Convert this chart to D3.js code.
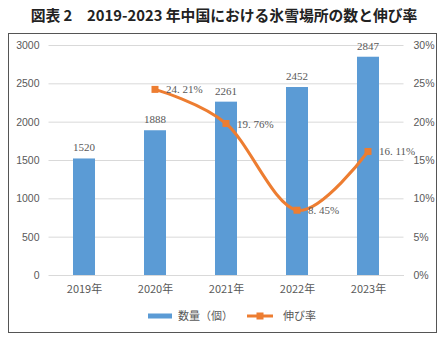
<!DOCTYPE html>
<html><head><meta charset="utf-8">
<script src="https://cdn.jsdelivr.net/npm/d3@7"></script>
<style>body{margin:0;background:#fff}svg{display:block}</style>
</head><body>
<svg id="c" width="444" height="337"></svg>
<script>
const categories = ["2019年","2020年","2021年","2022年","2023年"];
const counts = [1520, 1888, 2261, 2452, 2847];
const growth = [null, 24.21, 19.76, 8.45, 16.11];
const growthLabels = [null, "24. 21%", "19. 76%", "8. 45%", "16. 11%"];
const leftTicks = [0, 500, 1000, 1500, 2000, 2500, 3000];
const rightTicks = [0, 5, 10, 15, 20, 25, 30];
const title = "図表 2　2019-2023 年中国における氷雪場所の数と伸び率";
const legendNames = ["数量（個）", "伸び率"];

const svg = d3.select("#c");
const plot = {l: 48.5, r: 403.5, t: 45, b: 275};
const grey = "#595959", blue = "#5B9BD5", orange = "#ED7D31";
const cjk = "'Noto Sans CJK JP','Noto Sans CJK SC',sans-serif";
const labelFont = "'Liberation Serif','Times New Roman',serif";

svg.append("text").attr("x", 224).attr("y", 21).attr("text-anchor", "middle")
  .attr("font-family", cjk).attr("font-weight", "bold").attr("font-size", 14.8)
  .attr("fill", "#222").text(title);

svg.append("rect").attr("x", 8.5).attr("y", 33.5).attr("width", 428).attr("height", 299)
  .attr("fill", "#fff").attr("stroke", "#555").attr("stroke-width", 1);

const x = d3.scaleBand().domain(categories).range([plot.l, plot.r]).paddingInner(0.69).paddingOuter(0.345);
const xc = d3.scalePoint().domain(categories).range([plot.l, plot.r]).padding(0.5);
const yL = d3.scaleLinear().domain([0, 3000]).range([plot.b, plot.t]);
const yR = d3.scaleLinear().domain([0, 30]).range([plot.b, plot.t]);

const gAxisL = svg.append("g").attr("transform", `translate(${plot.l},0)`)
  .call(d3.axisLeft(yL).tickValues(leftTicks).tickSize(-(plot.r - plot.l)).tickPadding(9).tickFormat(d3.format("d")));
gAxisL.select(".domain").remove();
gAxisL.selectAll(".tick line").attr("stroke", "#D9D9D9");
gAxisL.selectAll(".tick text").attr("fill", grey).attr("font-size", 10.5)
  .attr("font-family", "'Liberation Sans',Arial,sans-serif");

const gAxisR = svg.append("g").attr("transform", `translate(${plot.r},0)`)
  .call(d3.axisRight(yR).tickValues(rightTicks).tickSize(0).tickPadding(10).tickFormat(d => d + "%"));
gAxisR.select(".domain").remove();
gAxisR.selectAll(".tick text").attr("fill", grey).attr("font-size", 10.5)
  .attr("font-family", "'Liberation Sans',Arial,sans-serif");

svg.append("g").selectAll("rect").data(counts).join("rect")
  .attr("x", (d, i) => x(categories[i])).attr("width", x.bandwidth())
  .attr("y", d => yL(d)).attr("height", d => plot.b - yL(d)).attr("fill", blue);

const gX = svg.append("g").attr("transform", `translate(0,${plot.b})`)
  .call(d3.axisBottom(xc).tickSize(0).tickPadding(10));
gX.select(".domain").attr("stroke", "#D9D9D9");
gX.selectAll(".tick text").attr("fill", grey).attr("font-size", 11)
  .attr("font-family", cjk);

svg.append("g").selectAll("text").data(counts).join("text")
  .attr("x", (d, i) => xc(categories[i])).attr("y", d => yL(d) - 7)
  .attr("text-anchor", "middle").attr("fill", grey).attr("font-size", 11)
  .attr("font-family", labelFont).text(d => d);

const pts = growth.map((v, i) => v == null ? null : [xc(categories[i]), yR(v)]).filter(p => p);
svg.append("path").attr("d", d3.line().curve(d3.curveCardinal.tension(0))(pts))
  .attr("fill", "none").attr("stroke", orange).attr("stroke-width", 3).attr("stroke-linecap", "round");
svg.append("g").selectAll("rect").data(pts).join("rect")
  .attr("x", d => d[0] - 3.5).attr("y", d => d[1] - 3.5).attr("width", 7).attr("height", 7).attr("fill", orange);

svg.append("g").selectAll("text").data(growth.map((v, i) => ({v, i})).filter(d => d.v != null)).join("text")
  .attr("x", d => xc(categories[d.i]) + 11).attr("y", d => yR(d.v) + 4)
  .attr("fill", grey).attr("font-size", 11)
  .attr("font-family", labelFont).text(d => growthLabels[d.i]);

const lg = svg.append("g");
lg.append("rect").attr("x", 148).attr("y", 313.5).attr("width", 24).attr("height", 5).attr("fill", blue);
lg.append("text").attr("x", 178).attr("y", 320).attr("fill", grey).attr("font-size", 11)
  .attr("font-family", cjk).text(legendNames[0]);
lg.append("line").attr("x1", 247).attr("x2", 273).attr("y1", 316).attr("y2", 316)
  .attr("stroke", orange).attr("stroke-width", 3);
lg.append("rect").attr("x", 256.5).attr("y", 312.5).attr("width", 7).attr("height", 7).attr("fill", orange);
lg.append("text").attr("x", 283).attr("y", 320).attr("fill", grey).attr("font-size", 11)
  .attr("font-family", cjk).text(legendNames[1]);
</script>
</body></html>
